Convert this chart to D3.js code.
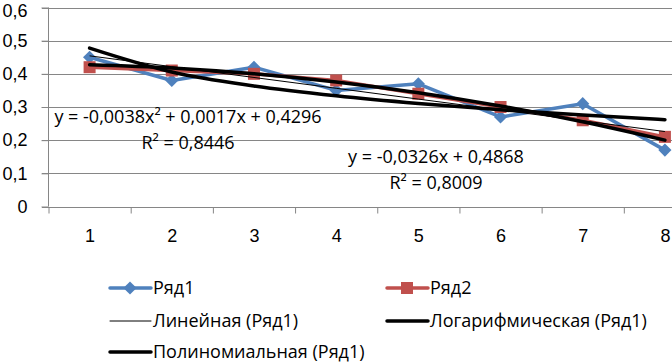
<!DOCTYPE html>
<html><head><meta charset="utf-8">
<script src="https://cdn.jsdelivr.net/npm/d3@7"></script>
<style>
html,body{margin:0;padding:0;background:#fff;}
svg{display:block;font-family:"Open Sans",sans-serif;}
</style></head>
<body>
<svg id="c" width="672" height="364"></svg>
<script>
const categories = [1, 2, 3, 4, 5, 6, 7, 8];
const series1 = [0.45, 0.38, 0.42, 0.35, 0.37, 0.27, 0.31, 0.17];
const series2 = [0.42, 0.41, 0.40, 0.38, 0.34, 0.30, 0.26, 0.21];
const trendLinear = [0.4542, 0.4216, 0.3890, 0.3564, 0.3238, 0.2912, 0.2586, 0.2260];
const trendLog = [0.4776, 0.4056, 0.3635, 0.3337, 0.3105, 0.2916, 0.2756, 0.2618];
const trendPoly = [0.4275, 0.4178, 0.4005, 0.3756, 0.3431, 0.3030, 0.2553, 0.2000];
const yTicks = [0, 0.1, 0.2, 0.3, 0.4, 0.5, 0.6];
const yTickLabels = ["0", "0,1", "0,2", "0,3", "0,4", "0,5", "0,6"];
const seriesNames = ["Ряд1", "Ряд2", "Линейная (Ряд1)", "Логарифмическая (Ряд1)", "Полиномиальная (Ряд1)"];
const polyEq = ["y = -0,0038x² + 0,0017x + 0,4296", "R² = 0,8446"];
const linEq = ["y = -0,0326x + 0,4868", "R² = 0,8009"];

const svg = d3.select("#c");
const fs = 18;
const x = d3.scaleLinear().domain([0.5, 8.5]).range([48.5, 706]);
const y = d3.scaleLinear().domain([0, 0.6]).range([206.5, 7.5]);
const grid = "#868686";

// gridlines
svg.append("g").selectAll("line").data(yTicks.filter(d => d > 0)).join("line")
  .attr("x1", 42).attr("x2", 672)
  .attr("y1", d => Math.round(y(d)) + 0.5).attr("y2", d => Math.round(y(d)) + 0.5)
  .attr("stroke", grid).attr("stroke-width", 1);

// y axis
const yAx = svg.append("g").attr("transform", "translate(48.5,0)")
  .call(d3.axisLeft(y).tickValues(yTicks).tickSize(7).tickPadding(14)
    .tickFormat((d, i) => yTickLabels[i]));
yAx.select(".domain").attr("stroke", grid).attr("d", `M0,${y(0.6)}V${y(0)}`);
yAx.selectAll(".tick line").attr("stroke", grid);
yAx.selectAll(".tick text").attr("font-size", fs).attr("font-family", null).attr("fill", "#000")
  .attr("dy", d => d === 0.6 ? "0.5em" : "0.32em");

// x axis ticks
const bounds = d3.range(0.5, 9, 1);
const xAx = svg.append("g").attr("transform", `translate(0,${Math.round(y(0)) + 0.5})`)
  .call(d3.axisBottom(x).tickValues(bounds).tickSize(6).tickFormat(""));
xAx.select(".domain").attr("stroke", grid).attr("d", `M42,0H706`);
xAx.selectAll(".tick line").attr("stroke", grid);

const xLab = svg.append("g").attr("transform", `translate(0,${Math.round(y(0)) + 0.5})`)
  .call(d3.axisBottom(x).tickValues(categories).tickSize(0).tickPadding(22).tickFormat(d => String(d)));
xLab.select(".domain").remove();
xLab.selectAll(".tick text").attr("font-size", fs).attr("font-family", null).attr("fill", "#000");

const line = d3.line().x((d, i) => x(categories[i])).y(d => y(d));
const smooth = d3.line().x((d, i) => x(categories[i])).y(d => y(d)).curve(d3.curveMonotoneX);

const blue = "#4F81BD", red = "#C0504D";
const diamond = d3.symbol().type(d3.symbolDiamond2).size(110);
// series 1
svg.append("path").attr("d", line(series1)).attr("fill", "none").attr("stroke", blue).attr("stroke-width", 3.5).attr("stroke-linejoin", "round");
svg.append("g").selectAll("path").data(series1).join("path")
  .attr("d", diamond).attr("transform", (d, i) => `translate(${x(categories[i])},${y(d)})`).attr("fill", blue);
// series 2
svg.append("path").attr("d", line(series2)).attr("fill", "none").attr("stroke", red).attr("stroke-width", 3.5).attr("stroke-linejoin", "round");
svg.append("g").selectAll("rect").data(series2).join("rect")
  .attr("x", (d, i) => x(categories[i]) - 6).attr("y", d => y(d) - 6)
  .attr("width", 12).attr("height", 12).attr("fill", red);

// trendlines
svg.append("path").attr("d", line(trendLinear)).attr("fill", "none").attr("stroke", "#000").attr("stroke-width", 1);
svg.append("path").attr("d", smooth(trendLog)).attr("fill", "none").attr("stroke", "#000").attr("stroke-width", 3.5).attr("stroke-linecap", "round");
svg.append("path").attr("d", smooth(trendPoly)).attr("fill", "none").attr("stroke", "#000").attr("stroke-width", 3.5).attr("stroke-linecap", "round");

// equations
const eq = svg.append("g").attr("font-size", fs).attr("fill", "#000");
eq.append("text").attr("x", 188).attr("y", 123).attr("text-anchor", "middle").text(polyEq[0]);
eq.append("text").attr("x", 188).attr("y", 149).attr("text-anchor", "middle").text(polyEq[1]);
eq.append("text").attr("x", 436).attr("y", 163).attr("text-anchor", "middle").text(linEq[0]);
eq.append("text").attr("x", 436).attr("y", 189).attr("text-anchor", "middle").text(linEq[1]);

// legend
const legItems = [
  {name: seriesNames[0], x: 110, y: 288, color: blue, w: 3.5, mark: "diamond"},
  {name: seriesNames[1], x: 387, y: 288, color: red, w: 3.5, mark: "square"},
  {name: seriesNames[2], x: 110, y: 321, color: "#000", w: 1, mark: null},
  {name: seriesNames[3], x: 387, y: 321, color: "#000", w: 3.5, mark: null},
  {name: seriesNames[4], x: 110, y: 352, color: "#000", w: 3.5, mark: null}
];
const lg = svg.append("g");
legItems.forEach(it => {
  const g = lg.append("g").attr("transform", `translate(${it.x},${it.y})`);
  g.append("line").attr("x1", 0).attr("x2", 41).attr("y1", 0).attr("y2", 0)
    .attr("stroke", it.color).attr("stroke-width", it.w).attr("stroke-linecap", "round");
  if (it.mark === "diamond") g.append("path").attr("d", diamond).attr("transform", "translate(20,0)").attr("fill", it.color);
  if (it.mark === "square") g.append("rect").attr("x", 14).attr("y", -6).attr("width", 12).attr("height", 12).attr("fill", it.color);
  g.append("text").attr("x", 43).attr("y", 0).attr("dy", "0.35em").attr("font-size", fs).attr("fill", "#000").text(it.name);
});
</script>
</body></html>
